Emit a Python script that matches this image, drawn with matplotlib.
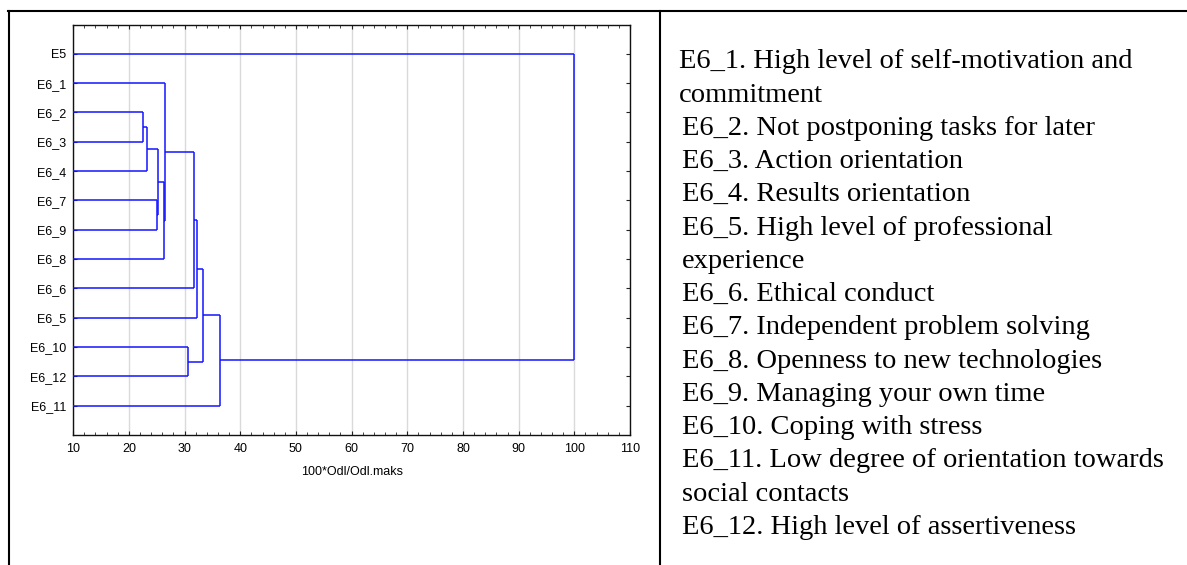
import matplotlib
matplotlib.use("Agg")
import matplotlib.pyplot as plt
from matplotlib.lines import Line2D
from matplotlib.ticker import MultipleLocator

# ---- data ----
leaf_labels = ['E5', 'E6_1', 'E6_2', 'E6_3', 'E6_4', 'E6_7', 'E6_9', 'E6_8',
               'E6_6', 'E6_5', 'E6_10', 'E6_12', 'E6_11']
merge_names = ['m1', 'm2', 'm3', 'm4', 'm5', 'm6', 'm7', 'm8', 'm9', 'm10', 'm11', 'm12']
merge_left = ['E6_2', 'm1', 'E6_7', 'm2', 'm4', 'E6_1', 'm6', 'm7', 'E6_10', 'm8', 'm10', 'E5']
merge_right = ['E6_3', 'E6_4', 'E6_9', 'm3', 'E6_8', 'm5', 'E6_6', 'E6_5', 'E6_12', 'm9', 'E6_11', 'm11']
merge_height = [22.5, 23.2, 25.0, 25.2, 26.3, 26.4, 31.7, 32.2, 30.6, 33.3, 36.4, 100.0]
x_ticks = [10, 20, 30, 40, 50, 60, 70, 80, 90, 100, 110]
x_label = '100*Odl/Odl.maks'

legend_lines = [
    'E6_1. High level of self-motivation and',
    'commitment',
    'E6_2. Not postponing tasks for later',
    'E6_3. Action orientation',
    'E6_4. Results orientation',
    'E6_5. High level of professional',
    'experience',
    'E6_6. Ethical conduct',
    'E6_7. Independent problem solving',
    'E6_8. Openness to new technologies',
    'E6_9. Managing your own time',
    'E6_10. Coping with stress',
    'E6_11. Low degree of orientation towards',
    'social contacts',
    'E6_12. High level of assertiveness',
]

# ---- figure ----
W, H = 1187, 565
fig = plt.figure(figsize=(W / 100, H / 100), dpi=100)
fig.patch.set_facecolor('white')

ax_l, ax_r, ax_t, ax_b = 73.2, 630.0, 24.5, 435.0
ax = fig.add_axes([ax_l / W, 1 - ax_b / H, (ax_r - ax_l) / W, (ax_b - ax_t) / H])

sans = ['Liberation Sans', 'DejaVu Sans']
serif = ['Liberation Serif', 'DejaVu Serif']

xmin, xmax = 10, 110
pos = {lab: float(i) for i, lab in enumerate(leaf_labels)}
hgt = {lab: xmin for lab in leaf_labels}
col = '#1414ff'
for name, a, b, h in zip(merge_names, merge_left, merge_right, merge_height):
    for c in (a, b):
        ax.plot([hgt[c], h], [pos[c], pos[c]], color=col, lw=1.1, solid_capstyle='butt', zorder=3)
    ax.plot([h, h], [pos[a], pos[b]], color=col, lw=1.1, solid_capstyle='butt', zorder=3)
    pos[name] = (pos[a] + pos[b]) / 2
    hgt[name] = h

ax.set_xlim(xmin, xmax)
ax.set_ylim(len(leaf_labels), -1)
ax.set_xticks(x_ticks)
ax.set_xticklabels([str(v) for v in x_ticks], fontfamily=sans, fontsize=9)
ax.xaxis.set_minor_locator(MultipleLocator(2))
ax.set_yticks(range(len(leaf_labels)))
ax.set_yticklabels(leaf_labels, fontfamily=sans, fontsize=9)
ax.tick_params(axis='both', which='major', direction='in', length=3, width=0.8,
               top=True, right=True, color='#222222')
ax.tick_params(axis='x', which='minor', direction='in', length=2, width=0.7,
               top=True, color='#444444')
ax.tick_params(axis='x', which='major', pad=5.5)
ax.tick_params(axis='y', which='major', pad=4.8)
ax.grid(axis='x', which='major', color='#dadada', lw=1.0, zorder=0)
ax.set_axisbelow(True)
for s in ax.spines.values():
    s.set_linewidth(1.0)
    s.set_color('#111111')
ax.set_xlabel(x_label, fontfamily=sans, fontsize=9, labelpad=8.5)

# ---- table borders ----
lw_b = 1.5
fig.add_artist(Line2D([8 / W, 1.0], [1 - 11 / H, 1 - 11 / H], color='black', lw=lw_b,
                      transform=fig.transFigure))
fig.add_artist(Line2D([9 / W, 9 / W], [0, 1 - 11 / H], color='black', lw=lw_b,
                      transform=fig.transFigure))
fig.add_artist(Line2D([660 / W, 660 / W], [0, 1 - 11 / H], color='black', lw=lw_b,
                      transform=fig.transFigure))

# ---- legend text ----
base0, step = 68.3, 33.25
for k, line in enumerate(legend_lines):
    x = 679.0 if k < 2 else 682.0
    fig.text(x / W, 1 - (base0 + k * step) / H, line, fontfamily=serif,
             fontsize=20.5, va='baseline', ha='left', color='black')

fig.savefig('out.png', dpi=100, facecolor='white')
